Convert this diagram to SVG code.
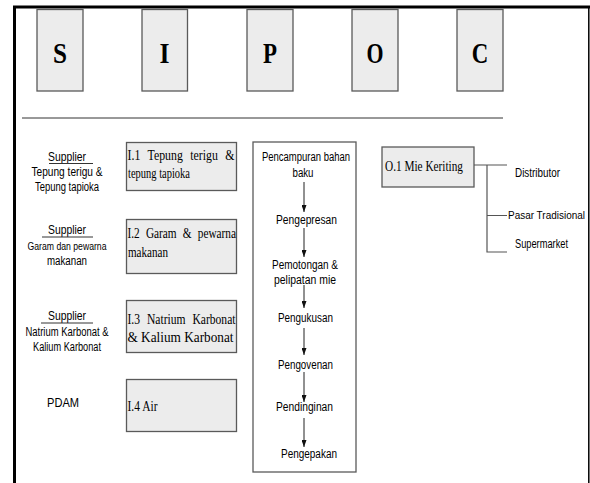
<svg xmlns="http://www.w3.org/2000/svg" width="590" height="483" viewBox="0 0 590 483">
<defs>
<style>
.box{fill:#ececec;stroke:#5a5a5a;stroke-width:1.3}
.pbox{fill:#ffffff;stroke:#5a5a5a;stroke-width:1.3}
.big{font-family:"Liberation Serif","Times New Roman",serif;font-weight:bold;font-size:30px;fill:#000}
.ser{font-family:"Liberation Serif","Times New Roman",serif;font-size:14.5px;fill:#000}
.san{font-family:"Liberation Sans",Arial,sans-serif;font-size:12px;fill:#000}
.ln{stroke:#333;stroke-width:1;fill:none}
.gl{stroke:#555;stroke-width:1.2;fill:none}
.arr{stroke:#222;stroke-width:1;fill:none;marker-end:url(#ah)}
</style>
<marker id="ah" markerUnits="userSpaceOnUse" markerWidth="7" markerHeight="5" refX="7" refY="2.5" orient="auto">
<path d="M0,0 L7,2.5 L0,5 z" fill="#111"/>
</marker>
</defs>
<rect x="0" y="0" width="590" height="483" fill="#fff"/>
<g id="frame">
<path d="M14.5,483 V7 H590" fill="none" stroke="#000" stroke-width="3"/>
<line x1="588.8" y1="7" x2="588.8" y2="483" stroke="#000" stroke-width="1.5"/>
<line x1="22" y1="118" x2="503" y2="118" class="ln"/>
</g>
<g id="head-S"><rect class="box" x="37" y="9.5" width="46" height="81.5"/><text class="big" x="53" y="63" textLength="14" lengthAdjust="spacingAndGlyphs">S</text></g>
<g id="head-I"><rect class="box" x="142" y="9.5" width="45.5" height="81.5"/><text class="big" x="159.5" y="63" textLength="10" lengthAdjust="spacingAndGlyphs">I</text></g>
<g id="head-P"><rect class="box" x="247" y="9.5" width="46" height="81.5"/><text class="big" x="263" y="63" textLength="14" lengthAdjust="spacingAndGlyphs">P</text></g>
<g id="head-O"><rect class="box" x="352" y="9.5" width="46" height="81.5"/><text class="big" x="366.5" y="63" textLength="17" lengthAdjust="spacingAndGlyphs">O</text></g>
<g id="head-C"><rect class="box" x="457" y="9.5" width="46" height="81.5"/><text class="big" x="471.7" y="63" textLength="16.5" lengthAdjust="spacingAndGlyphs">C</text></g>

<g id="supplier-1">
<text class="san" x="48" y="160.5" textLength="38" lengthAdjust="spacingAndGlyphs">Supplier</text>
<line class="ln" x1="49" y1="163.5" x2="93" y2="163.5"/>
<text class="san" x="31.5" y="176" textLength="71" lengthAdjust="spacingAndGlyphs">Tepung terigu &amp;</text>
<text class="san" x="35" y="190.5" textLength="64" lengthAdjust="spacingAndGlyphs">Tepung tapioka</text>
</g>
<g id="supplier-2">
<text class="san" x="48" y="233.5" textLength="38" lengthAdjust="spacingAndGlyphs">Supplier</text>
<line class="ln" x1="42" y1="237" x2="93" y2="237"/>
<text class="san" x="27.5" y="250" textLength="79" lengthAdjust="spacingAndGlyphs" style="font-size:10.8px">Garam dan pewarna</text>
<text class="san" x="47" y="265" textLength="40" lengthAdjust="spacingAndGlyphs">makanan</text>
</g>
<g id="supplier-3">
<text class="san" x="48" y="320" textLength="38" lengthAdjust="spacingAndGlyphs">Supplier</text>
<line class="ln" x1="41" y1="323" x2="93" y2="323"/>
<text class="san" x="25.5" y="335.5" textLength="83" lengthAdjust="spacingAndGlyphs">Natrium Karbonat &amp;</text>
<text class="san" x="33" y="350.5" textLength="68" lengthAdjust="spacingAndGlyphs">Kalium Karbonat</text>
</g>
<g id="supplier-4">
<text class="san" x="47" y="407" textLength="32" lengthAdjust="spacingAndGlyphs">PDAM</text>
</g>

<g id="input-1">
<rect class="box" x="126.5" y="142.5" width="110" height="48"/>
<text class="ser" x="127.5" y="159.5" textLength="107" lengthAdjust="spacingAndGlyphs" style="word-spacing:5.5px">I.1 Tepung terigu &amp;</text>
<text class="ser" x="128" y="178" textLength="62" lengthAdjust="spacingAndGlyphs">tepung tapioka</text>
</g>
<g id="input-2">
<rect class="box" x="126.5" y="219.5" width="110" height="54"/>
<text class="ser" x="127.5" y="238" textLength="108.5" lengthAdjust="spacingAndGlyphs" style="word-spacing:4.3px">I.2 Garam &amp; pewarna</text>
<text class="ser" x="128" y="256.5" textLength="40" lengthAdjust="spacingAndGlyphs">makanan</text>
</g>
<g id="input-3">
<rect class="box" x="126.5" y="300.5" width="110" height="52"/>
<text class="ser" x="127.5" y="323.5" textLength="108" lengthAdjust="spacingAndGlyphs" style="word-spacing:5px">I.3 Natrium Karbonat</text>
<text class="ser" x="127.5" y="342" textLength="106" lengthAdjust="spacingAndGlyphs">&amp; Kalium Karbonat</text>
</g>
<g id="input-4">
<rect class="box" x="126.5" y="379.5" width="110" height="52"/>
<text class="ser" x="127.5" y="411" textLength="30" lengthAdjust="spacingAndGlyphs">I.4 Air</text>
</g>

<g id="process">
<rect class="pbox" x="253" y="142" width="103" height="330"/>
<text class="san" x="262" y="161" textLength="88" lengthAdjust="spacingAndGlyphs">Pencampuran bahan</text>
<text class="san" x="292.5" y="177" textLength="21" lengthAdjust="spacingAndGlyphs">baku</text>
<text class="san" x="276" y="224" textLength="61" lengthAdjust="spacingAndGlyphs">Pengepresan</text>
<text class="san" x="272" y="269" textLength="66" lengthAdjust="spacingAndGlyphs">Pemotongan &amp;</text>
<text class="san" x="274" y="284" textLength="62" lengthAdjust="spacingAndGlyphs">pelipatan mie</text>
<text class="san" x="278" y="322" textLength="55" lengthAdjust="spacingAndGlyphs">Pengukusan</text>
<text class="san" x="278" y="369" textLength="55" lengthAdjust="spacingAndGlyphs">Pengovenan</text>
<text class="san" x="276" y="411" textLength="57" lengthAdjust="spacingAndGlyphs">Pendinginan</text>
<text class="san" x="281" y="458" textLength="56" lengthAdjust="spacingAndGlyphs">Pengepakan</text>
</g>

<g id="output-1">
<rect class="box" x="382" y="147" width="92" height="40"/>
<text class="ser" x="385" y="170.5" textLength="78" lengthAdjust="spacingAndGlyphs">O.1 Mie Keriting</text>
</g>

<g id="customers">
<text class="san" x="515" y="177" textLength="45" lengthAdjust="spacingAndGlyphs">Distributor</text>
<text class="san" x="508" y="219" textLength="77" lengthAdjust="spacingAndGlyphs" style="font-size:10.5px">Pasar Tradisional</text>
<text class="san" x="515" y="248" textLength="53" lengthAdjust="spacingAndGlyphs">Supermarket</text>
</g>

<g id="connectors">
<line class="arr" x1="304" y1="182" x2="304" y2="212"/>
<line class="arr" x1="304" y1="228" x2="304" y2="257"/>
<line class="arr" x1="304" y1="285" x2="304" y2="308"/>
<line class="arr" x1="304" y1="328" x2="304" y2="355"/>
<line class="arr" x1="304" y1="372" x2="304" y2="402"/>
<line class="arr" x1="304" y1="418" x2="304" y2="447"/>
<path class="gl" d="M474,165 H507 M487,165 V252 H507 M487,215.5 H507"/>
</g>
</svg>
